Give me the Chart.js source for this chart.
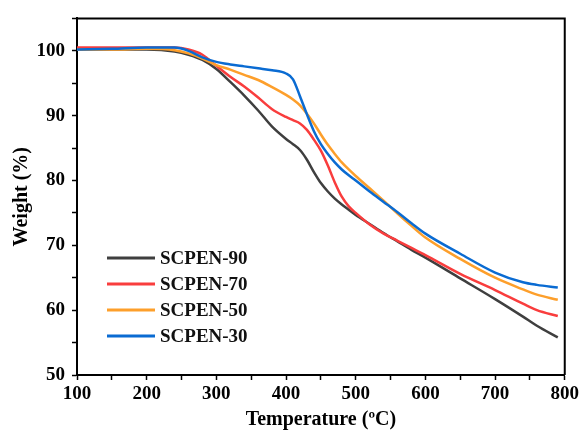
<!DOCTYPE html>
<html>
<head>
<meta charset="utf-8">
<script src="https://cdn.jsdelivr.net/npm/chart.js@4.4.0/dist/chart.umd.min.js"></script>
<style>
    body { margin: 0; background: #fff; }
    #wrap { width: 582px; height: 430px; }
</style>
</head>
<body>
<div id="wrap"><canvas id="tga" width="582" height="430"></canvas></div>
<script>
// temperatures (ºC) shared by every curve
const temps = [100, 150, 200, 240, 260, 280, 300, 320, 340, 360, 380, 400, 410, 420, 430, 440, 450, 460, 470, 480, 490, 500, 520, 540, 560, 580, 600, 650, 700, 740, 760, 790]

const labels = ["SCPEN-90", "SCPEN-70", "SCPEN-50", "SCPEN-30"]
const colors = ["#3f3f3f", "#f93d3d", "#fd9f2b", "#0a6bd2"]

// weight (%)
const w90 = [100.2, 100.2, 100.2, 99.9, 99.4, 98.6, 97.2, 95.2, 93.1, 90.8, 88.3, 86.4, 85.6, 84.7, 83.2, 81.3, 79.6, 78.3, 77.2, 76.3, 75.5, 74.7, 73.3, 71.9, 70.6, 69.3, 68.1, 64.9, 61.7, 59.0, 57.6, 55.8]
const w70 = [100.5, 100.5, 100.5, 100.5, 100.2, 99.4, 97.7, 96.0, 94.5, 92.8, 91.0, 89.8, 89.3, 88.8, 87.8, 86.3, 84.6, 82.3, 79.7, 77.5, 76.0, 75.0, 73.2, 71.8, 70.7, 69.6, 68.5, 65.6, 63.1, 61.0, 60.0, 59.1]
const w50 = [100.2, 100.2, 100.3, 100.1, 99.6, 98.8, 97.8, 97.1, 96.3, 95.5, 94.4, 93.2, 92.5, 91.6, 90.3, 88.8, 87.1, 85.5, 84.1, 82.8, 81.7, 80.7, 78.8, 76.9, 74.9, 73.0, 71.2, 67.9, 65.0, 63.2, 62.4, 61.6]
const w30 = [100.2, 100.3, 100.5, 100.5, 100.0, 99.0, 98.3, 97.9, 97.6, 97.3, 97.0, 96.5, 95.6, 93.0, 90.2, 87.6, 85.6, 84.1, 82.8, 81.7, 80.8, 80.0, 78.3, 76.7, 75.1, 73.4, 71.8, 68.7, 65.8, 64.3, 63.9, 63.5]

const series = [w90, w70, w50, w30]

const serif = "'Liberation Serif', 'Times New Roman', serif"

const framePlugin = {
    id: 'frame',
    afterDatasetsDraw(chart) {
        const { ctx, chartArea: a } = chart
        ctx.save()
        ctx.strokeStyle = '#000'
        ctx.lineWidth = 2
        ctx.beginPath()
        ctx.moveTo(a.left, a.top)
        ctx.lineTo(a.right, a.top)
        ctx.lineTo(a.right, a.bottom)
        ctx.stroke()

        // legend box in the lower left
        ctx.font = `bold 19px ${serif}`
        ctx.textBaseline = 'middle'
        chart.data.datasets.forEach((ds, i) => {
            const y = 258 + i * 26
            ctx.strokeStyle = ds.borderColor
            ctx.lineWidth = 3
            ctx.beginPath()
            ctx.moveTo(107, y)
            ctx.lineTo(155, y)
            ctx.stroke()
            ctx.fillStyle = '#111'
            ctx.fillText(ds.label, 160, y + 1)
        })
        ctx.restore()
    }
}

new Chart(document.getElementById('tga'), {
    type: 'line',
    data: {
        datasets: series.map((w, i) => ({
            label: labels[i],
            data: temps.map((t, j) => ({ x: t, y: w[j] })),
            borderColor: colors[i],
            borderWidth: 2.5,
            pointRadius: 0,
            cubicInterpolationMode: 'monotone',
            fill: false,
            order: 4 - i
        }))
    },
    options: {
        responsive: false,
        animation: false,
        layout: { padding: { left: 0, right: 16, top: 14, bottom: 0 } },
        plugins: {
            legend: { display: false },
            tooltip: { enabled: false }
        },
        scales: {
            x: {
                type: 'linear',
                min: 100,
                max: 800,
                afterFit: s => { s.height = 55 },
                border: { color: '#000', width: 2 },
                grid: { drawOnChartArea: false, drawTicks: true, tickLength: 5, tickColor: '#000', tickWidth: 1.5 },
                ticks: {
                    stepSize: 50,
                    padding: 3,
                    color: '#000',
                    maxRotation: 0,
                    font: { family: serif, size: 19, weight: 'bold' },
                    callback: v => v % 100 === 0 ? v : ''
                },
                title: {
                    display: true,
                    text: 'Temperature (ºC)',
                    color: '#000',
                    padding: 0,
                    font: { family: serif, size: 20, weight: 'bold', lineHeight: 1.0 }
                }
            },
            y: {
                min: 50,
                max: 105,
                afterFit: s => { s.width = 77 },
                border: { color: '#000', width: 2 },
                grid: { drawOnChartArea: false, drawTicks: true, tickLength: 5, tickColor: '#000', tickWidth: 1.5 },
                ticks: {
                    stepSize: 5,
                    padding: 7,
                    color: '#000',
                    font: { family: serif, size: 19, weight: 'bold' },
                    callback: v => v % 10 === 0 && v <= 100 ? v : ''
                },
                title: {
                    display: true,
                    text: 'Weight (%)',
                    color: '#000',
                    padding: { top: 10, bottom: 0 },
                    font: { family: serif, size: 20, weight: 'bold' }
                }
            }
        }
    },
    plugins: [framePlugin]
})
</script>
</body>
</html>
